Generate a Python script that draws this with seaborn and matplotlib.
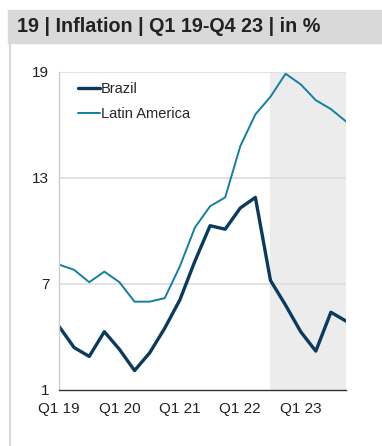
import numpy as np
import pandas as pd
import matplotlib
matplotlib.use("Agg")
import matplotlib.pyplot as plt
import seaborn as sns
from matplotlib.patches import Rectangle
from matplotlib.lines import Line2D

# Quarterly inflation, Q1 19 - Q4 23, in %
quarters = [f"Q{q} {y}" for y in range(19, 24) for q in range(1, 5)]
brazil = [4.6, 3.4, 2.9, 4.3, 3.3, 2.1, 3.1, 4.5, 6.1, 8.3,
          10.3, 10.1, 11.3, 11.9, 7.2, 5.8, 4.3, 3.2, 5.4, 4.9]
latin_america = [8.1, 7.8, 7.1, 7.7, 7.1, 6.0, 6.0, 6.2, 8.0, 10.2,
                 11.4, 11.9, 14.8, 16.6, 17.6, 18.9, 18.3, 17.4, 16.9, 16.2]
xtick_labels = ["Q1 19", "Q1 20", "Q1 21", "Q1 22", "Q1 23"]
yticks = [1, 7, 13, 19]
forecast_start = "Q3 22"

sns.set_style("white")
plt.rcParams["font.family"] = ["Liberation Sans", "DejaVu Sans"]

df = pd.DataFrame({
    "quarter": quarters * 2,
    "idx": list(range(len(quarters))) * 2,
    "value": brazil + latin_america,
    "series": ["Brazil"] * len(quarters) + ["Latin America"] * len(quarters),
})

fig = plt.figure(figsize=(3.82, 4.46), dpi=100)
ax = fig.add_axes([0.1545, 0.1256, 0.7513, 0.713])

# forecast shading
x0 = quarters.index(forecast_start)
ax.axvspan(x0, len(quarters) - 1, color="#ececec", zorder=0, lw=0)

sns.lineplot(data=df, x="idx", y="value", hue="series",
             palette={"Brazil": "#0a3a5e", "Latin America": "#127fa3"},
             size="series", sizes={"Brazil": 2.4, "Latin America": 1.4},
             ax=ax, legend=False)

ax.set_xlim(0, len(quarters) - 1)
ax.set_ylim(1, 19)
ax.set_yticks(yticks)
ax.set_yticklabels([str(t) for t in yticks], fontsize=11, color="#222222")
ax.set_xticks([quarters.index(l) for l in xtick_labels])
ax.set_xticklabels(xtick_labels, fontsize=11, color="#222222")
ax.set_xlabel("")
ax.set_ylabel("")

for t in yticks[1:]:
    ax.axhline(t, color="#dddddd", lw=1.2, zorder=0.5)

for side in ["top", "right"]:
    ax.spines[side].set_visible(False)
ax.spines["left"].set_color("#cccccc")
ax.spines["left"].set_linewidth(1)
ax.spines["bottom"].set_color("#333333")
ax.spines["bottom"].set_linewidth(1)
ax.tick_params(axis="x", direction="out", length=4, width=1, color="#333333", pad=5)
ax.tick_params(axis="y", direction="out", length=4, width=1, color="#cccccc", pad=3)

handles = [Line2D([], [], color="#0a3a5e", lw=2.4),
           Line2D([], [], color="#127fa3", lw=1.4)]
ax.legend(handles, ["Brazil", "Latin America"], loc="upper left",
          bbox_to_anchor=(0.03, 1.0), frameon=False, fontsize=10.5,
          handlelength=1.5, handletextpad=0.1, labelspacing=0.75,
          borderaxespad=0.3)

# title bar and frame
fig.patches.append(Rectangle((8 / 382, 1 - 43 / 446), 1, 33 / 446,
                             transform=fig.transFigure, color="#d9d9d9", zorder=0))
fig.text(17 / 382, 1 - 27 / 446, "19 | Inflation | Q1 19-Q4 23 | in %",
         fontsize=14.2, fontweight="bold", color="#222222", va="center", ha="left")
fig.add_artist(Line2D([10 / 382, 10 / 382], [0, 1 - 43 / 446],
                      transform=fig.transFigure, color="#d9d9d9", lw=1.5))

fig.savefig("out.png", dpi=100)
